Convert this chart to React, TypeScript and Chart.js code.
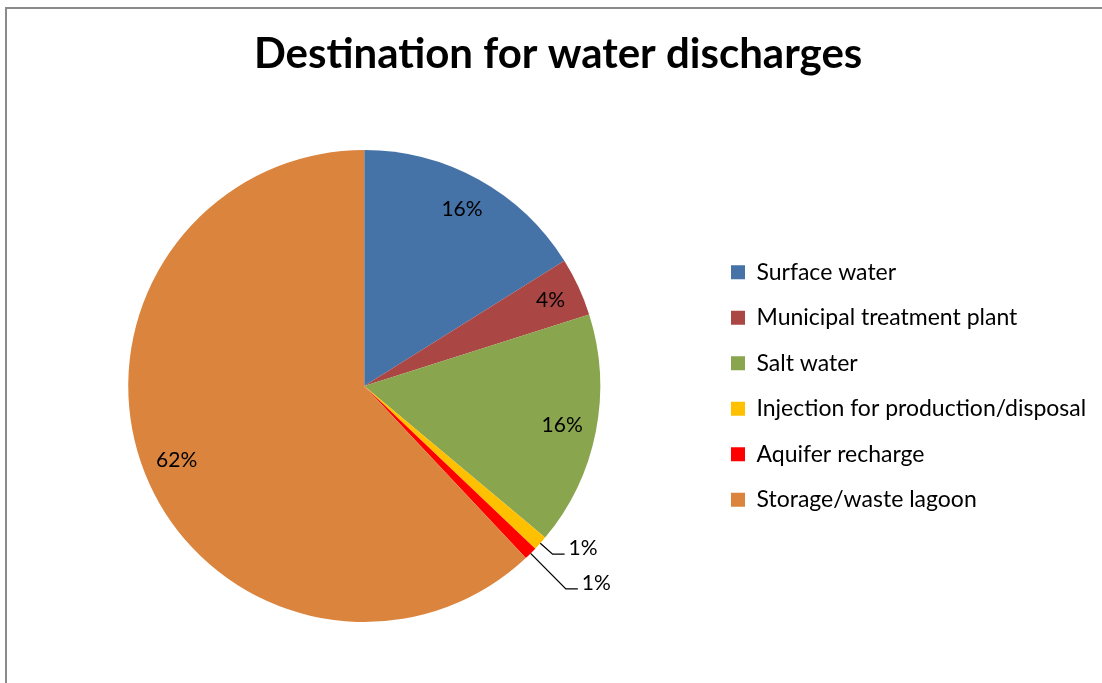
import React, { useEffect, useRef } from 'react';
import { Chart, registerables } from 'chart.js';

Chart.register(...registerables);

const categories = [
  'Surface water',
  'Municipal treatment plant',
  'Salt water',
  'Injection for production/disposal',
  'Aquifer recharge',
  'Storage/waste lagoon',
];
const shares = [16.1, 4.0, 16.0, 1.0, 0.9, 62.0];
const sliceColors = ['#4572A7', '#AA4643', '#89A54E', '#FFC000', '#FF0000', '#DB843D'];
const chartTitle = 'Destination for water discharges';

const FONT = 'Lato, "Open Sans", sans-serif';
const W = 1102;
const H = 683;
const LEGEND_LEFT = 708.5;

const frameBorder = {
  id: 'frameBorder',
  beforeDraw(chart: any) {
    const { ctx } = chart;
    ctx.save();
    ctx.strokeStyle = '#8a8a8a';
    ctx.lineWidth = 2;
    ctx.beginPath();
    ctx.moveTo(6, H);
    ctx.lineTo(6, 8);
    ctx.lineTo(W, 8);
    ctx.stroke();
    ctx.restore();
  },
};

const sliceLabels = {
  id: 'sliceLabels',
  afterDatasetsDraw(chart: any) {
    const { ctx } = chart;
    const meta = chart.getDatasetMeta(0);
    const data: number[] = chart.data.datasets[0].data;
    const total = data.reduce((a, b) => a + b, 0);
    const ext = [0, 0, 0, 16.5, 50, 0];
    ctx.save();
    ctx.font = `21px ${FONT}`;
    ctx.fillStyle = '#000';
    ctx.textBaseline = 'middle';
    meta.data.forEach((arc: any, i: number) => {
      const { x, y, startAngle, endAngle, outerRadius } = arc.getProps(
        ['x', 'y', 'startAngle', 'endAngle', 'outerRadius'],
        true
      );
      const mid = (startAngle + endAngle) / 2;
      const txt = Math.round((data[i] / total) * 100) + '%';
      if (ext[i] > 0) {
        const sx = x + Math.cos(mid) * outerRadius;
        const sy = y + Math.sin(mid) * outerRadius;
        const ex = x + Math.cos(mid) * (outerRadius + ext[i]);
        const ey = y + Math.sin(mid) * (outerRadius + ext[i]);
        ctx.beginPath();
        ctx.moveTo(sx, sy);
        ctx.lineTo(ex, ey);
        ctx.lineTo(ex + 12, ey);
        ctx.strokeStyle = '#000';
        ctx.lineWidth = 1.3;
        ctx.stroke();
        ctx.textAlign = 'left';
        ctx.fillText(txt, ex + 16, ey - 6);
      } else {
        const r = outerRadius * (i === 1 ? 0.87 : 0.855);
        ctx.textAlign = 'center';
        ctx.fillText(txt, x + Math.cos(mid) * r, y + Math.sin(mid) * r);
      }
    });
    ctx.restore();
  },
};

export default function App() {
  const canvasRef = useRef<HTMLCanvasElement | null>(null);

  useEffect(() => {
    const canvas = canvasRef.current;
    if (!canvas) return;
    const chart = new Chart(canvas, {
      type: 'pie',
      data: {
        labels: categories,
        datasets: [
          {
            data: shares,
            backgroundColor: sliceColors,
            borderWidth: 0,
          },
        ],
      },
      options: {
        responsive: false,
        animation: false,
        layout: { padding: { left: 20, right: 0, top: 0, bottom: 61 } },
        plugins: {
          title: {
            display: true,
            text: chartTitle,
            color: '#000',
            font: { family: FONT, size: 42, weight: 'bold' },
            padding: { top: 29.2, bottom: 70.4 },
          },
          legend: {
            position: 'right',
            fullSize: false,
            labels: {
              boxWidth: 14,
              boxHeight: 14,
              padding: 22.5,
              color: '#000',
              font: { family: FONT, size: 23 },
            },
          },
          tooltip: { enabled: false },
        },
      },
      plugins: [frameBorder, sliceLabels],
    } as any);
    const legend: any = (chart as any).legend;
    if (legend) {
      const delta = legend.left - LEGEND_LEFT;
      (chart.options as any).layout.padding.right += delta;
      chart.update();
    }
    return () => chart.destroy();
  }, []);

  return (
    <div
      style={{
        position: 'fixed',
        left: 0,
        top: 0,
        width: W,
        height: H,
        overflow: 'hidden',
        background: '#fff',
      }}
    >
      <canvas
        ref={canvasRef}
        width={W}
        height={H}
        style={{ position: 'absolute', left: 0, top: 0, width: W, height: H }}
      />
    </div>
  );
}
